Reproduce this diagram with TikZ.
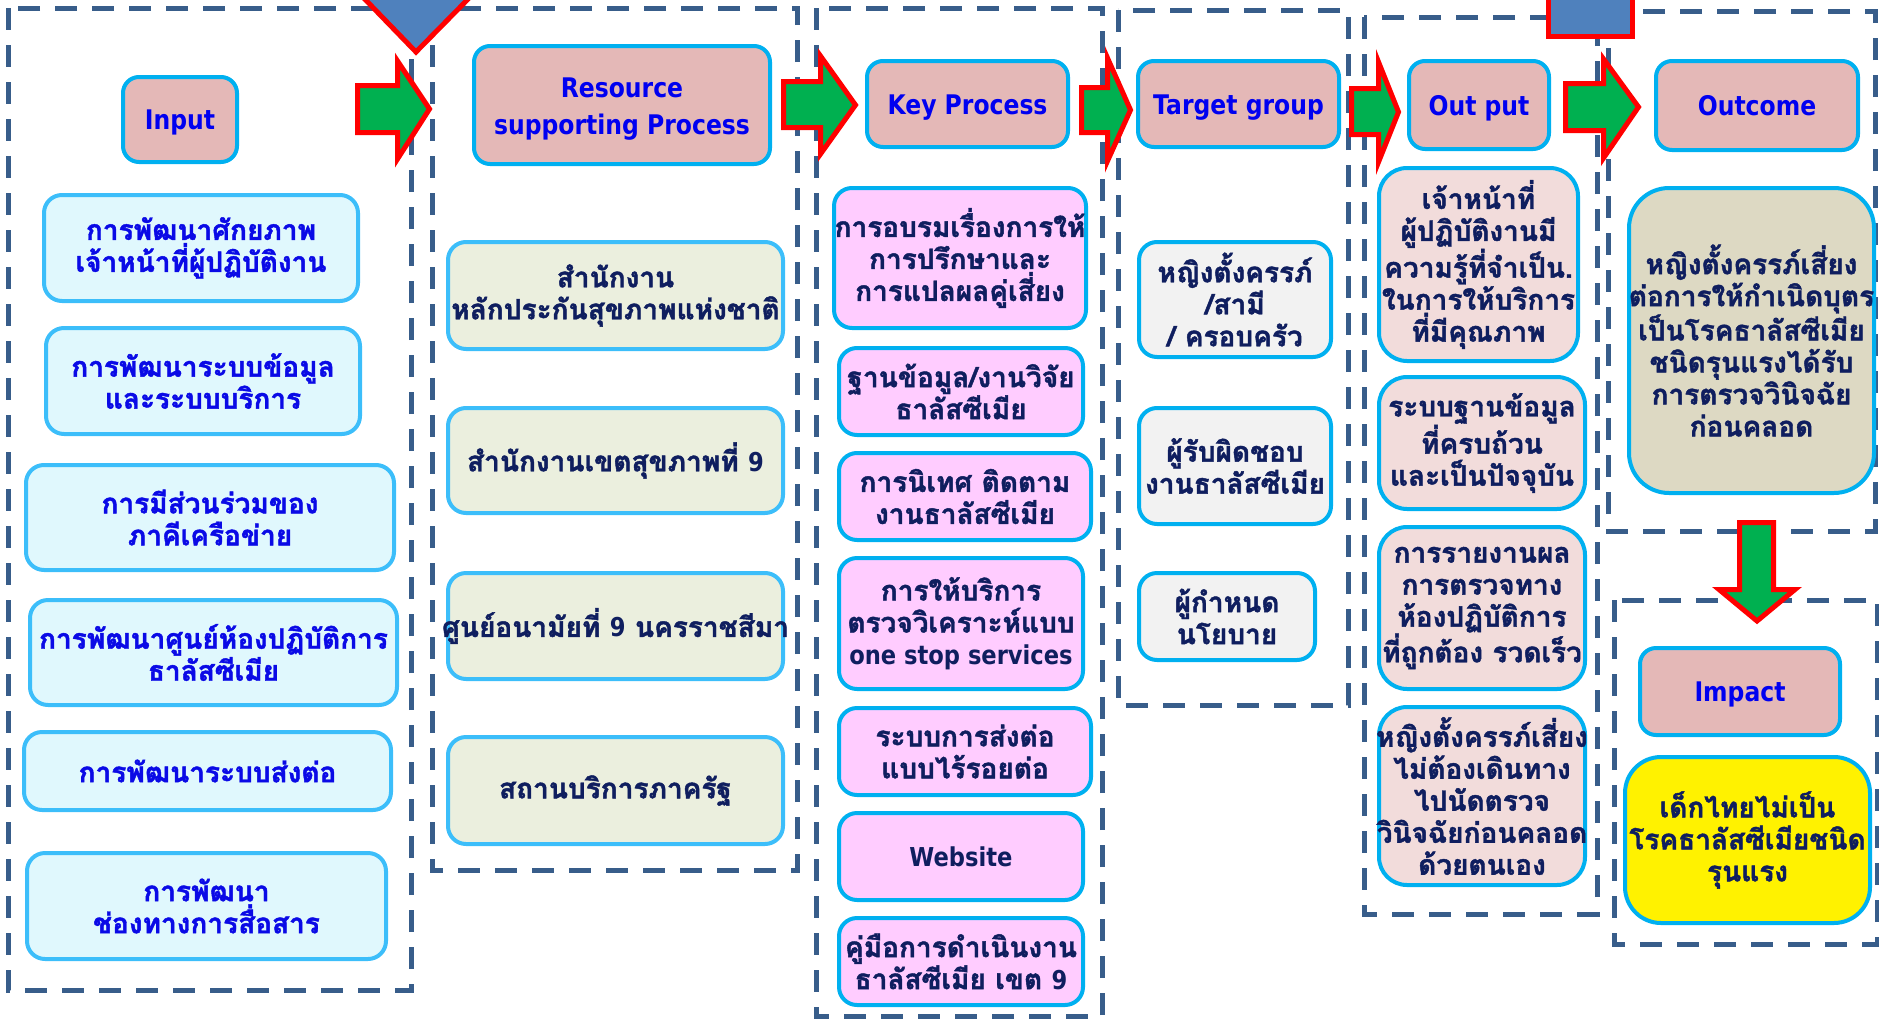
\documentclass[tikz,border=0pt]{standalone}
\usepackage{fontspec}
\newfontfamily\thaifont[Script=Thai,FakeBold=1.5]{Loma}
\newfontfamily\hdrfont[FakeStretch=0.87]{DejaVu Sans}
\newcommand\lat[1]{{\hdrfont\bfseries\fontsize{26pt}{32pt}\selectfont #1}}
\newcommand\zw[1]{\makebox[0pt]{#1}}
\newcommand\dn[1]{\raisebox{-4pt}[\height][\depth]{#1}}
\definecolor{frameC}{RGB}{56,93,138}
\definecolor{cyanB}{RGB}{0,176,240}
\definecolor{cyanL}{RGB}{60,190,250}
\definecolor{hdrFill}{RGB}{228,184,183}
\definecolor{hdrText}{RGB}{0,0,240}
\definecolor{inFill}{RGB}{224,248,253}
\definecolor{inText}{RGB}{10,10,230}
\definecolor{navy}{RGB}{15,30,95}
\definecolor{resFill}{RGB}{235,239,222}
\definecolor{keyFill}{RGB}{255,204,255}
\definecolor{tgtFill}{RGB}{242,242,242}
\definecolor{outFill}{RGB}{242,220,219}
\definecolor{ocFill}{RGB}{221,217,195}
\definecolor{arrG}{RGB}{0,176,80}
\definecolor{triB}{RGB}{79,129,189}
\tikzset{
 colframe/.style={draw=frameC, line width=5pt, dash pattern=on 22pt off 15pt},
 bx/.style={rounded corners=18pt, line width=4pt, align=center, inner sep=0pt,
   font=\thaifont\bfseries\fontsize{28pt}{32pt}\selectfont},
 hdr/.style={bx, draw=cyanB, fill=hdrFill, text=hdrText, rounded corners=16pt,
   font=\hdrfont\bfseries\fontsize{27pt}{37pt}\selectfont, text height=20.5pt, text depth=0pt},
 hdrtwo/.style={bx, draw=cyanB, fill=hdrFill, text=hdrText, rounded corners=16pt,
   font=\hdrfont\bfseries\fontsize{27pt}{37pt}\selectfont},
 inbox/.style={bx, draw=cyanL, fill=inFill, text=inText},
 resbox/.style={bx, draw=cyanL, fill=resFill, text=navy},
 keybox/.style={bx, draw=cyanB, fill=keyFill, text=navy},
 tgtbox/.style={bx, draw=cyanB, fill=tgtFill, text=navy},
 outbox/.style={bx, draw=cyanB, fill=outFill, text=navy, rounded corners=28pt},
 ocbox/.style={bx, draw=cyanB, fill=ocFill, text=navy, rounded corners=40pt},
 impbox/.style={bx, draw=cyanB, fill=yellow, text=navy, rounded corners=36pt},
 barrow/.style={fill=arrG, draw=red, line width=5pt, line join=miter},
 tri/.style={fill=triB, draw=red, line width=5pt},
 sz/.style 2 args={minimum width=#1pt, minimum height=#2pt},
}
\begin{document}
\begin{tikzpicture}[x=1pt,y=-1pt]
\useasboundingbox (0,0) rectangle (1879,1020);
\begin{scope}
\clip (0,0) rectangle (1879,1020);
% dashed frames
\draw[colframe] (8,8) rectangle (411,990);
\draw[colframe] (432,8) rectangle (797,870);
\draw[colframe] (816,8) rectangle (1102,1016);
\draw[colframe] (1118,10) rectangle (1348,705);
\draw[colframe] (1364,17) rectangle (1597,914);
\draw[colframe] (1608,11) rectangle (1875,531);
\draw[colframe] (1614,600) rectangle (1877,944);
% Input column
\node[hdr, sz={114}{85}] (inH) at (180,119.5) {Input};
\node[inbox, sz={314}{106}] (in1) at (201,248) {การพัฒนาศักยภาพ\\เจ้าหน้าที่ผู้ปฏิบัติงาน};
\node[inbox, sz={314}{106}] (in2) at (203,381) {การพัฒนาระบบข้อมูล\\และระบบบริการ};
\node[inbox, sz={368}{105}] (in3) at (210,517.5) {การมีส่วนร่วมของ\\ภาคีเครือข่าย};
\node[inbox, sz={367}{105}] (in4) at (213.5,652.5) {\zw{การพัฒนาศูนย์ห้องปฏิบัติการ}\\ธาลัสซีเมีย};
\node[inbox, sz={367}{78}] (in5) at (207.5,771) {การพัฒนาระบบส่งต่อ};
\node[inbox, sz={359}{106}] (in6) at (206.5,906) {การพัฒนา\\ช่องทางการสื่อสาร};
% Resource column
\node[hdrtwo, sz={296}{118}] (resH) at (622,105) {\dn{\begin{tabular}{@{}c@{}}Resource\\supporting Process\end{tabular}}};
\node[resbox, sz={335}{107}] (r1) at (615.5,295.5) {สำนักงาน\\\zw{หลักประกันสุขภาพแห่งชาติ}};
\node[resbox, sz={335}{105}] (r2) at (615.5,460.5) {\zw{สำนักงานเขตสุขภาพที่ \lat{9}}};
\node[resbox, sz={335}{106}] (r3) at (615.5,626) {\zw{ศูนย์อนามัยที่ \lat{9} นครราชสีมา}};
\node[resbox, sz={335}{107}] (r4) at (615.5,790.5) {สถานบริการภาครัฐ};
% Key process column
\node[hdr, sz={201}{86}] (keyH) at (967.5,104) {Key Process};
\node[keybox, sz={252}{140}] (k1) at (960,258) {\zw{การอบรมเรื่องการให้}\\การปรึกษาและ\\การแปลผลคู่เสี่ยง};
\node[keybox, sz={244}{87}] (k2) at (961,391.5) {\zw{ฐานข้อมูล/งานวิจัย}\\ธาลัสซีเมีย};
\node[keybox, sz={252}{87}] (k3) at (965,496.5) {\zw{การนิเทศ ติดตาม}\\งานธาลัสซีเมีย};
\node[keybox, sz={244}{131}] (k4) at (961,623.5) {การให้บริการ\\\zw{ตรวจวิเคราะห์แบบ}\\\zw{\lat{one stop services}}};
\node[keybox, sz={252}{87}] (k5) at (965,751.5) {ระบบการส่งต่อ\\แบบไร้รอยต่อ};
\node[keybox, sz={244}{87}] (k6) at (961,856.5) {\lat{Website}};
\node[keybox, sz={244}{87}] (k7) at (961,961.5) {\zw{คู่มือการดำเนินงาน}\\\zw{ธาลัสซีเมีย เขต \lat{9}}};
% Target group column
\node[hdr, sz={201}{86}] (tgtH) at (1238.5,104) {Target group};
\node[tgtbox, sz={192}{115}] (t1) at (1235,299.5) {\zw{หญิงตั้งครรภ์}\\/สามี\\/ ครอบครัว};
\node[tgtbox, sz={192}{116}] (t2) at (1235,466) {ผู้รับผิดชอบ\\\zw{งานธาลัสซีเมีย}};
\node[tgtbox, sz={176}{87}] (t3) at (1227,616.5) {ผู้กำหนด\\นโยบาย};
% Output column
\node[hdr, sz={140}{88}] (outH) at (1479,105) {Out put};
\node[outbox, sz={199}{193}] (o1) at (1478.5,264.5) {เจ้าหน้าที่\\ผู้ปฏิบัติงานมี\\\zw{ความรู้ที่จำเป็น.}\\\zw{ในการให้บริการ}\\ที่มีคุณภาพ};
\node[outbox, sz={206}{132}] (o2) at (1482,443) {\zw{ระบบฐานข้อมูล}\\ที่ครบถ้วน\\\zw{และเป็นปัจจุบัน}};
\node[outbox, sz={206}{162}] (o3) at (1482,608) {การรายงานผล\\การตรวจทาง\\\zw{ห้องปฏิบัติการ}\\\zw{ที่ถูกต้อง รวดเร็ว}};
\node[outbox, sz={206}{178}] (o4) at (1482,796) {\zw{หญิงตั้งครรภ์เสี่ยง}\\ไม่ต้องเดินทาง\\ไปนัดตรวจ\\\zw{วินิจฉัยก่อนคลอด}\\ด้วยตนเอง};
% Outcome / Impact
\node[hdr, sz={202}{89}] (ocH) at (1757,105.5) {Outcome};
\node[ocbox, sz={245}{305}] (oc) at (1751.5,340.5) {\zw{หญิงตั้งครรภ์เสี่ยง}\\\zw{ต่อการให้กำเนิดบุตร}\\\zw{เป็นโรคธาลัสซีเมีย}\\ชนิดรุนแรงได้รับ\\การตรวจวินิจฉัย\\ก่อนคลอด};
\node[hdr, sz={200}{87}] (impH) at (1740,691.5) {Impact};
\node[impbox, sz={245}{166}] (imp) at (1747.5,840) {เด็กไทยไม่เป็น\\\zw{โรคธาลัสซีเมียชนิด}\\รุนแรง};
% decorative top shapes
\draw[tri] (356,-10) -- (477,-10) -- (416,52) -- cycle;
\draw[tri] (1548.5,-10) rectangle (1632.5,36.5);
% block arrows between columns
\draw[barrow] (357.5,85.5) -- (397.5,85.5) -- (397.5,61) -- (429.5,109) -- (397.5,159) -- (397.5,132.5) -- (357.5,132.5) -- cycle;
\draw[barrow] (783.5,81.5) -- (820.5,81.5) -- (820.5,56) -- (855.5,105) -- (820.5,154) -- (820.5,127.5) -- (783.5,127.5) -- cycle;
\draw[barrow] (1081.5,87.5) -- (1107.5,87.5) -- (1107.5,58) -- (1130.5,110) -- (1107.5,161) -- (1107.5,132.5) -- (1081.5,132.5) -- cycle;
\draw[barrow] (1351.5,88.5) -- (1378.5,88.5) -- (1378.5,62) -- (1398.5,112) -- (1378.5,162) -- (1378.5,134.5) -- (1351.5,134.5) -- cycle;
\draw[barrow] (1565.5,83.5) -- (1603.5,83.5) -- (1603.5,59) -- (1638.5,107) -- (1603.5,158) -- (1603.5,130.5) -- (1565.5,130.5) -- cycle;
\draw[barrow] (1739.5,522.5) -- (1773.5,522.5) -- (1773.5,589.5) -- (1795,589.5) -- (1757,621) -- (1719,589.5) -- (1739.5,589.5) -- cycle;
\end{scope}
\end{tikzpicture}
\end{document}
